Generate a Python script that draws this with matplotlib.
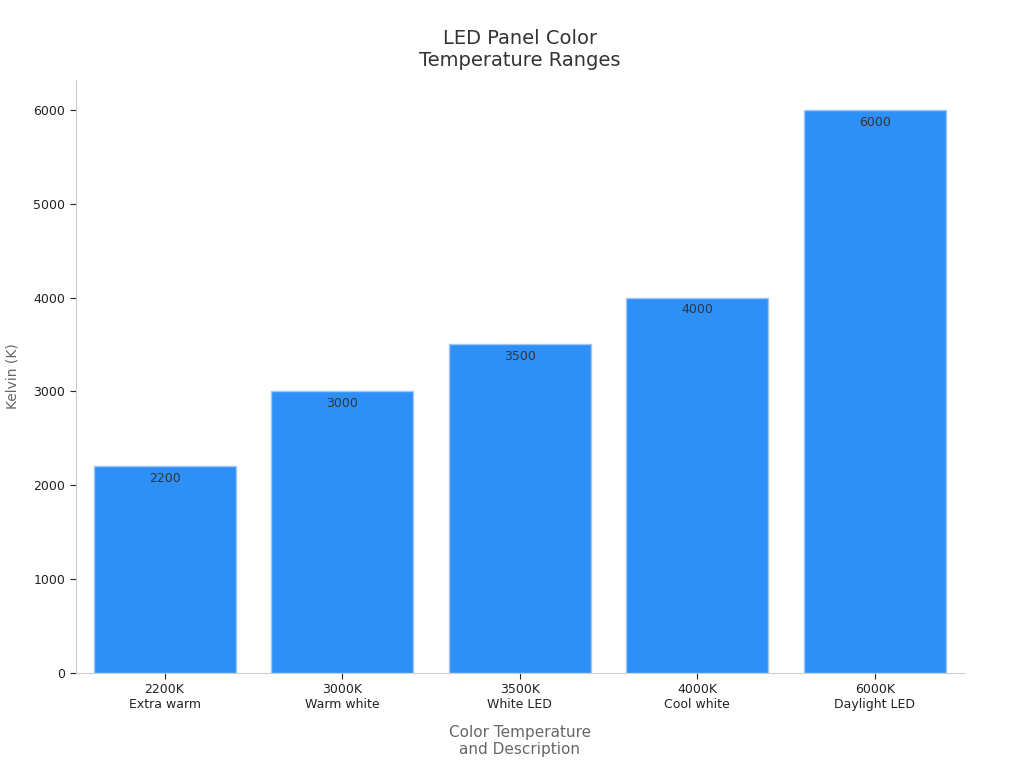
import matplotlib
matplotlib.use('Agg')
import matplotlib.pyplot as plt

temps = ['2200K', '3000K', '3500K', '4000K', '6000K']
descs = ['Extra warm', 'Warm white', 'White LED', 'Cool white', 'Daylight LED']
kelvin = [2200, 3000, 3500, 4000, 6000]

fig, ax = plt.subplots(figsize=(10.24, 7.68), dpi=100)
fig.subplots_adjust(left=0.074, right=0.941, top=0.896, bottom=0.124)

x = range(len(kelvin))
bars = ax.bar(x, kelvin, width=0.8, color='#2E90F7', edgecolor='#9cc8f5', linewidth=1)
for xi, v in zip(x, kelvin):
    ax.text(xi, v - 60, str(v), ha='center', va='top', fontsize=9, color='#333333')

ax.set_xticks(list(x))
ax.set_xticklabels([f'{t}\n{d}' for t, d in zip(temps, descs)], fontsize=9, color='#222222')
ax.set_xlim(-0.5, 4.5)
ax.set_ylim(0, 6320)
ax.set_yticks(range(0, 6001, 1000))
ax.tick_params(axis='y', labelsize=9, colors='#222222')
ax.tick_params(colors='#222222', length=4)
for s in ['top', 'right']:
    ax.spines[s].set_visible(False)
for s in ['left', 'bottom']:
    ax.spines[s].set_color('#cccccc')

ax.set_xlabel('Color Temperature\nand Description', fontsize=11, color='#666666', labelpad=10)
ax.set_ylabel('Kelvin (K)', fontsize=10, color='#666666', labelpad=10)
ax.set_title('LED Panel Color\nTemperature Ranges', fontsize=14, color='#333333', pad=10)

fig.savefig('out.png', dpi=100)
